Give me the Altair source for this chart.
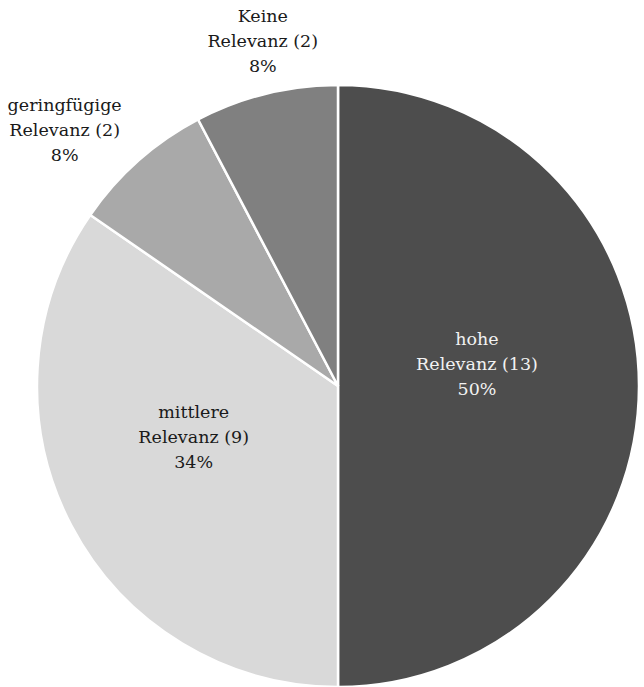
import altair as alt
import pandas as pd

# Data
line1 = ["hohe", "mittlere", "geringfügige", "Keine"]
counts = [13, 9, 2, 2]
percents = ["50%", "34%", "8%", "8%"]
colors = ["#4d4d4d", "#d9d9d9", "#a9a9a9", "#808080"]

labels = [f"{a}\nRelevanz ({c})\n{p}" for a, c, p in zip(line1, counts, percents)]
df = pd.DataFrame({
    "idx": list(range(len(counts))),
    "cat": line1,
    "value": counts,
    "label": labels,
})

R = 301
FONT = "DejaVu Serif"
base = alt.Chart(df).encode(
    theta=alt.Theta("value:Q", stack=True),
    order=alt.Order("idx:Q", sort="ascending"),
)

arcs = base.mark_arc(radius=R, stroke="white", strokeWidth=2.5).encode(
    color=alt.Color("cat:N", scale=alt.Scale(domain=line1, range=colors), legend=None)
)

# label placement styles: (radius, dx, dy, color)
styles = [
    (139, 0, -46, "#f2f2f2"),
    (163, 0, -49, "#1a1a1a"),
    (373, -26, -1, "#1a1a1a"),
    (352, 9, -27, "#1a1a1a"),
]

layers = [arcs]
for i, (r, dx, dy, col) in enumerate(styles):
    layers.append(
        base.transform_calculate(t=f"datum.idx == {i} ? datum.label : ''")
        .mark_text(
            radius=r, dx=dx, dy=dy, font=FONT, fontSize=17.5,
            lineHeight=25, lineBreak="\n", color=col, align="center", baseline="middle",
        )
        .encode(text="t:N")
    )

chart = alt.layer(*layers).properties(
    width=2 * R,
    height=2 * R,
    padding={"left": 338 - R, "top": 386 - R, "right": 0, "bottom": 0},
    autosize=alt.AutoSizeParams(type="none"),
    background="white",
).configure_view(stroke=None)

chart.save("out.html", embed_options={"renderer": "svg", "actions": False})
